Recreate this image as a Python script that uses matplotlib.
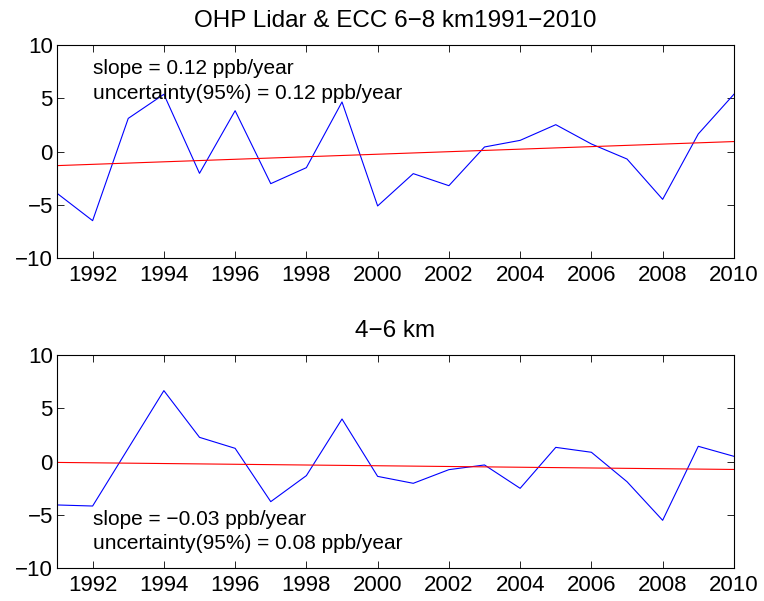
import matplotlib
matplotlib.use('Agg')
import numpy as np
import matplotlib.pyplot as plt

plt.rcParams['font.family'] = ['Liberation Sans', 'DejaVu Sans']
plt.rcParams['font.size'] = 16

years = np.arange(1991, 2011)

# 6-8 km anomalies (ppb)
upper_vals = [-3.9, -6.47, 3.12, 5.38, -2.03, 3.84, -3.0, -1.5, 4.66, -5.09,
              -2.06, -3.19, 0.44, 1.06, 2.53, 0.72, -0.69, -4.47, 1.66, 5.38]
# 4-6 km anomalies (ppb)
lower_vals = [-4.06, -4.16, 1.25, 6.66, 2.28, 1.25, -3.75, -1.31, 4.0, -1.38,
              -2.03, -0.75, -0.31, -2.5, 1.34, 0.88, -1.88, -5.5, 1.44, 0.5]

titles = ['OHP Lidar & ECC 6\u22128 km1991\u22122010', '4\u22126 km']
slope_txt = ['slope = 0.12 ppb/year', 'slope = \u22120.03 ppb/year']
unc_txt = ['uncertainty(95%) = 0.12 ppb/year', 'uncertainty(95%) = 0.08 ppb/year']
text_y = [(7.31, 4.94), (-5.93, -8.21)]

fig = plt.figure(figsize=(7.64, 6.01), dpi=100)
axes = [fig.add_axes([0.0746, 0.5702, 0.886, 0.3549]),
        fig.add_axes([0.0746, 0.0544, 0.886, 0.3549])]

for i, (ax, vals) in enumerate(zip(axes, [upper_vals, lower_vals])):
    vals = np.array(vals)
    ax.plot(years, vals, color='blue', lw=0.8)
    # linear trend
    p = np.polyfit(years, vals, 1)
    ax.plot(years, np.polyval(p, years), color='red', lw=0.8)
    ax.set_xlim(1991, 2010)
    ax.set_ylim(-10, 10)
    ax.set_xticks(np.arange(1992, 2011, 2))
    ax.set_yticks([-10, -5, 0, 5, 10])
    ax.tick_params(direction='in', top=True, right=True, length=5, width=0.6)
    ax.tick_params(axis='x', pad=5)
    ax.tick_params(axis='y', pad=3)
    for s in ax.spines.values():
        s.set_linewidth(0.8)
    ax.set_title(titles[i], fontsize=17.5, pad=13)
    ax.text(1992, text_y[i][0], slope_txt[i], fontsize=15, va='baseline')
    ax.text(1992, text_y[i][1], unc_txt[i], fontsize=15, va='baseline')

fig.savefig('out.png', dpi=100)
